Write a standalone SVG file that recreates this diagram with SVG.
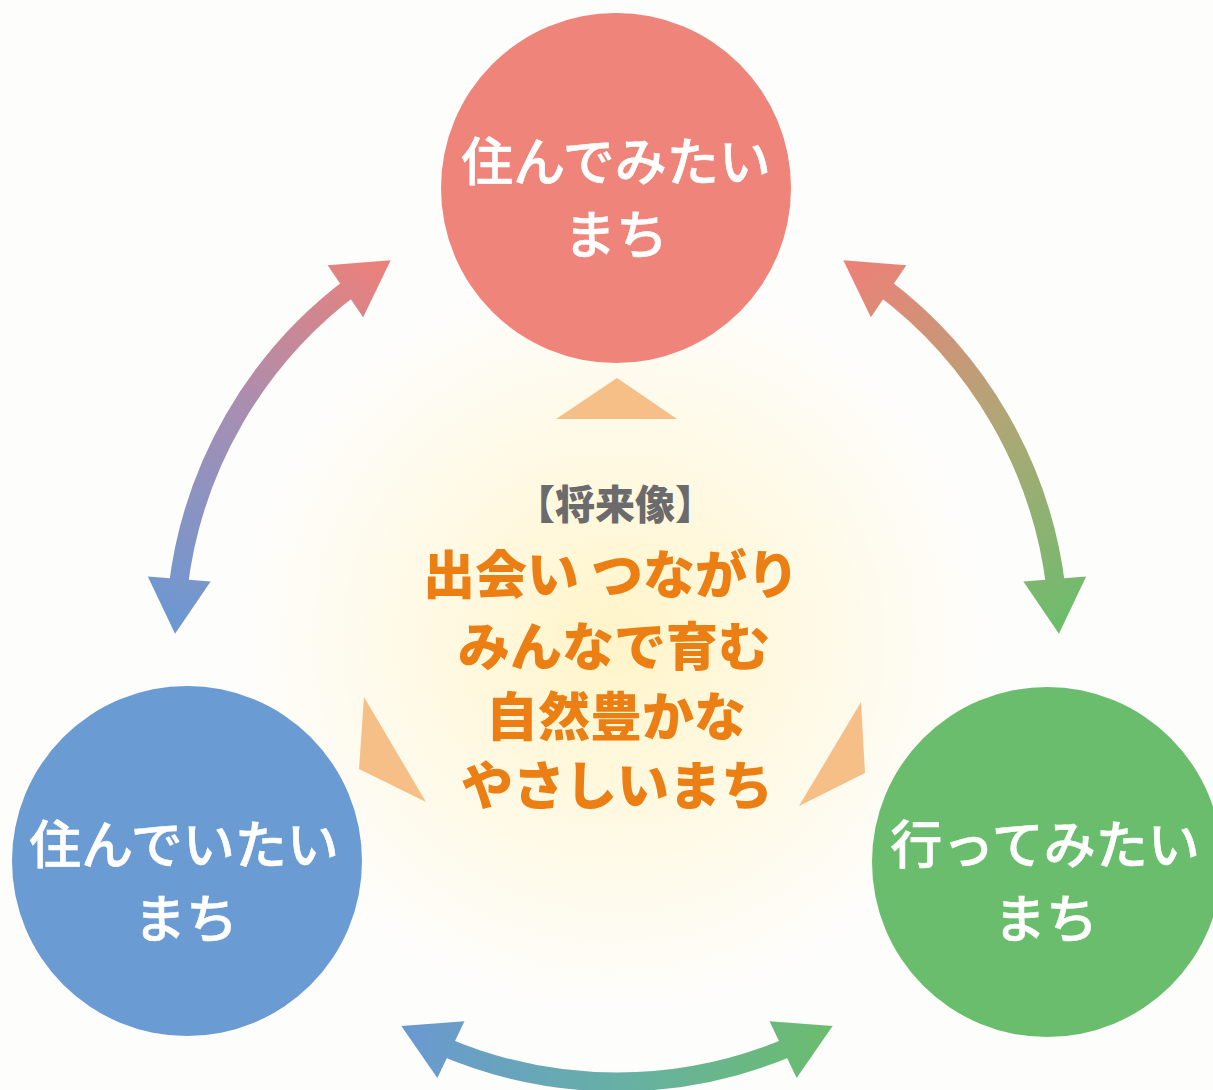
<svg xmlns="http://www.w3.org/2000/svg" width="1213" height="1090" viewBox="0 0 1213 1090">
  <defs>
    <radialGradient id="glow" cx="614" cy="640" r="380" gradientUnits="userSpaceOnUse">
      <stop offset="0" stop-color="#fff4c8"/>
      <stop offset="0.45" stop-color="#fff9e2"/>
      <stop offset="1" stop-color="#fdfdfc"/>
    </radialGradient>
    <linearGradient id="gLeft" x1="390" y1="260" x2="175" y2="634" gradientUnits="userSpaceOnUse">
      <stop offset="0" stop-color="#ee8078"/>
      <stop offset="0.5" stop-color="#a48fb4"/>
      <stop offset="1" stop-color="#6a98d2"/>
    </linearGradient>
    <linearGradient id="gRight" x1="843" y1="260" x2="1059" y2="634" gradientUnits="userSpaceOnUse">
      <stop offset="0" stop-color="#ee8078"/>
      <stop offset="0.5" stop-color="#b1a676"/>
      <stop offset="1" stop-color="#6bbd6c"/>
    </linearGradient>
    <linearGradient id="gBottom" x1="401" y1="1026" x2="833" y2="1026" gradientUnits="userSpaceOnUse">
      <stop offset="0" stop-color="#6a98d2"/>
      <stop offset="0.5" stop-color="#66b0a6"/>
      <stop offset="1" stop-color="#6bbd6c"/>
    </linearGradient>
  </defs>
  <style>
    .node-label { font-family: "Noto Sans CJK JP", "Noto Sans CJK SC", sans-serif; font-size: 52px; font-weight: 500; fill: #ffffff; stroke: #ffffff; stroke-width: 0.6px; text-anchor: middle; }
    .title { font-family: "Noto Sans CJK JP", "Noto Sans CJK SC", sans-serif; font-size: 40px; font-weight: 900; fill: #6b6b6b; text-anchor: middle; }
    .vision { font-family: "Noto Sans CJK JP", "Noto Sans CJK SC", sans-serif; font-size: 52px; font-weight: 900; fill: #ec7f14; text-anchor: middle; }
    .tri { fill: #f6bf88; }
    .shaft { fill: none; stroke-width: 19; }
  </style>

  <rect x="0" y="0" width="1213" height="1090" fill="url(#glow)"/>

  <g id="pointers">
    <polygon class="tri" points="617,378 556,419 677,419"/>
    <polygon class="tri" points="364,697 359,769 426,802"/>
    <polygon class="tri" points="861,702 865,773 799,806"/>
  </g>

  <g id="connectors">
    <g id="arrow-left" fill="url(#gLeft)">
      <path class="shaft" stroke="url(#gLeft)" d="M178.11,587.67 A442,442 0 0 1 352.32,286.08"/>
      <polygon points="175.04,633.83 210.64,581.42 147.82,576.62"/>
      <polygon points="390.68,260.34 363.16,317.31 327.60,265.31"/>
    </g>
    <g id="arrow-right" fill="url(#gRight)">
      <path class="shaft" stroke="url(#gRight)" d="M881.68,286.08 A442,442 0 0 1 1055.89,587.67"/>
      <polygon points="1058.96,633.83 1023.36,581.42 1086.18,576.62"/>
      <polygon points="843.32,260.34 870.84,317.31 906.40,265.31"/>
    </g>
    <g id="arrow-bottom" fill="url(#gBottom)">
      <path class="shaft" stroke="url(#gBottom)" d="M791.12,1046.26 A442,442 0 0 1 442.88,1046.26"/>
      <polygon points="401.37,1025.96 464.49,1021.18 437.35,1078.04"/>
      <polygon points="832.63,1025.96 769.51,1021.18 796.65,1078.04"/>
    </g>
  </g>

  <g id="node-top">
    <circle cx="616" cy="188" r="175" fill="#ef847b"/>
    <text class="node-label" x="616" y="181">住んでみたい</text>
    <text class="node-label" x="616" y="254">まち</text>
  </g>

  <g id="node-left">
    <circle cx="187" cy="861" r="175" fill="#6b9bd3"/>
    <text class="node-label" x="184" y="864">住んでいたい</text>
    <text class="node-label" x="186" y="938">まち</text>
  </g>

  <g id="node-right">
    <circle cx="1047" cy="862" r="175" fill="#6bbd6e"/>
    <text class="node-label" x="1045" y="864">行ってみたい</text>
    <text class="node-label" x="1046" y="938">まち</text>
  </g>

  <g id="center-vision">
    <text class="title" x="615" y="519">【将来像】</text>
    <text class="vision" x="611" y="594">出会い つながり</text>
    <text class="vision" x="614" y="666">みんなで育む</text>
    <text class="vision" x="616" y="736">自然豊かな</text>
    <text class="vision" x="617" y="805">やさしいまち</text>
  </g>
</svg>
